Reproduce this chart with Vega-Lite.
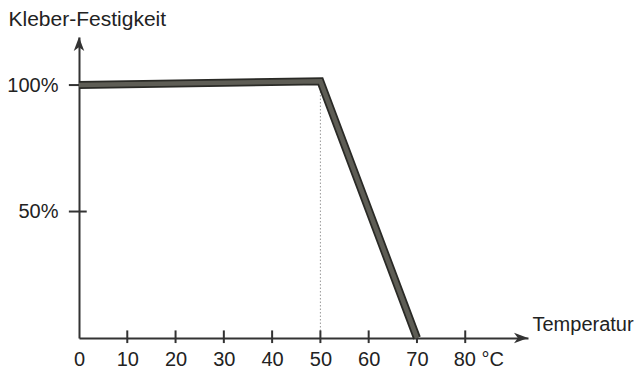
{
  "$schema": "https://vega.github.io/schema/vega-lite/v6.json",
  "width": 449,
  "height": 301,
  "autosize": "none",
  "padding": {"left": 79, "top": 37, "right": 112, "bottom": 32},
  "background": "white",
  "config": {"view": {"stroke": null}, "font": "Liberation Sans"},
  "layer": [
    {
      "data": {"values": [{"x": 50, "y": 0, "y2": 101.5}]},
      "mark": {"type": "rule", "color": "#999", "strokeWidth": 1, "strokeDash": [1.5, 2]},
      "encoding": {
        "x": {"field": "x", "type": "quantitative", "scale": {"domain": [0, 93], "nice": false, "zero": false},
          "axis": {"values": [0, 10, 20, 30, 40, 50, 60, 70, 80], "ticks": false, "grid": false,
            "domainColor": "#333", "domainWidth": 2, "labelFontSize": 20, "labelColor": "#222",
            "labelPadding": 11, "labelFlush": false, "labelOverlap": false,
            "labelExpr": "datum.value == 80 ? '80 °C' : datum.label",
            "labelAlign": {"condition": {"test": "datum.value == 80", "value": "left"}, "value": "center"},
            "labelOffset": {"condition": {"test": "datum.value == 80", "value": -12}, "value": 0},
            "title": "Temperatur", "titleFontSize": 20, "titleFontWeight": "normal", "titleColor": "#222",
            "titleAlign": "left", "titleBaseline": "alphabetic", "titleX": 453, "titleY": -8}},
        "y": {"field": "y", "type": "quantitative", "scale": {"domain": [0, 119], "nice": false, "zero": false},
          "axis": {"values": [50, 100], "ticks": false, "grid": false,
            "domainColor": "#333", "domainWidth": 2, "labelFontSize": 20, "labelColor": "#222",
            "labelPadding": 21, "labelExpr": "datum.value + '%'",
            "title": "Kleber-Festigkeit", "titleFontSize": 21, "titleFontWeight": "normal", "titleColor": "#222",
            "titleAngle": 0, "titleAlign": "left", "titleBaseline": "alphabetic", "titleX": -71, "titleY": -12}},
        "y2": {"field": "y2"}
      }
    },
    {
      "data": {"values": [{"t": 10}, {"t": 20}, {"t": 30}, {"t": 40}, {"t": 50}, {"t": 60}, {"t": 70}, {"t": 80}]},
      "mark": {"type": "rule", "color": "#333", "strokeWidth": 2},
      "encoding": {
        "x": {"field": "t", "type": "quantitative"},
        "y": {"datum": -2},
        "y2": {"datum": 3}
      }
    },
    {
      "data": {"values": [{"t": 50}, {"t": 100}]},
      "mark": {"type": "rule", "color": "#333", "strokeWidth": 2},
      "encoding": {
        "y": {"field": "t", "type": "quantitative"},
        "x": {"datum": -2.1},
        "x2": {"datum": 1.6}
      }
    },
    {
      "data": {"values": [{"x": 0, "y": 100}, {"x": 50, "y": 101.5}, {"x": 70, "y": 0}]},
      "mark": {"type": "line", "color": "#2a2a26", "strokeWidth": 8, "strokeJoin": "miter", "strokeCap": "butt"},
      "encoding": {
        "x": {"field": "x", "type": "quantitative"},
        "y": {"field": "y", "type": "quantitative"}
      }
    },
    {
      "data": {"values": [{"x": 0, "y": 100}, {"x": 50, "y": 101.5}, {"x": 70, "y": 0}]},
      "mark": {"type": "line", "color": "#5e5d55", "strokeWidth": 4.5, "strokeJoin": "miter", "strokeCap": "butt"},
      "encoding": {
        "x": {"field": "x", "type": "quantitative"},
        "y": {"field": "y", "type": "quantitative"}
      }
    },
    {
      "data": {"values": [{"x": 93, "y": 0}]},
      "mark": {"type": "point", "filled": true, "color": "#333", "opacity": 1, "size": 196,
        "shape": "M0,0 L-2,-0.75 L-1.45,0 L-2,0.75 Z"},
      "encoding": {
        "x": {"field": "x", "type": "quantitative"},
        "y": {"field": "y", "type": "quantitative"}
      }
    },
    {
      "data": {"values": [{"x": 0, "y": 119}]},
      "mark": {"type": "point", "filled": true, "color": "#333", "opacity": 1, "size": 196,
        "shape": "M0,0 L-0.75,2 L0,1.45 L0.75,2 Z"},
      "encoding": {
        "x": {"field": "x", "type": "quantitative"},
        "y": {"field": "y", "type": "quantitative"}
      }
    }
  ]
}
